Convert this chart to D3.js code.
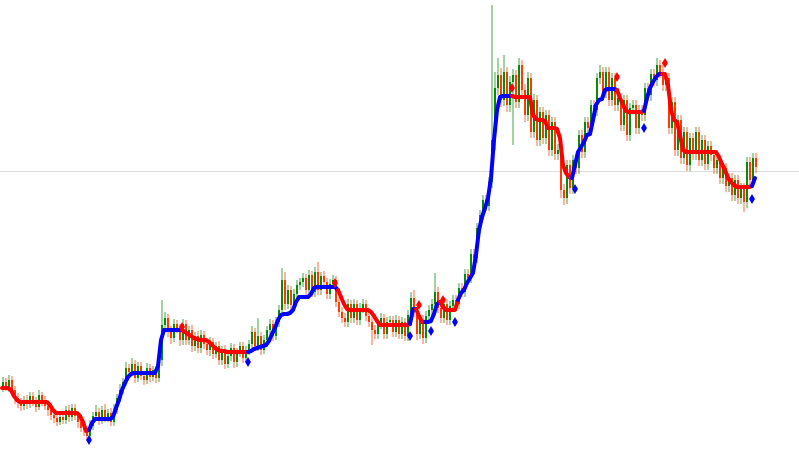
<!DOCTYPE html>
<html>
<head>
<meta charset="utf-8">
<script src="https://cdn.jsdelivr.net/npm/d3@7"></script>
<style>
html,body{margin:0;padding:0;background:#fff;overflow:hidden;}
svg{display:block;}
</style>
</head>
<body>
<svg id="chart" width="799" height="450"></svg>
<script>
// ---- data (price units) ----
const open = [
 62,68,63,70,60,52,47,44,50,46, 54,48,43,55,49,44,40,35,32,28,
 33,30,40,33,42,34,28,22,20,14, 24,34,38,30,40,32,37,28,40,52,
 60,68,82,78,86,72,84,74,70,82, 73,80,72,90,125,132,118,112,126,122,
 110,126,110,120,104,114,102,115,106,100, 108,96,104,90,100,86,94,102,88,98,
 104,92,100,106,118,104,114,100,110,120, 126,114,128,140,170,146,160,145,156,165,
 168,172,160,175,158,178,160,174,168,156, 166,170,148,138,132,128,146,132,146,130,
 142,146,134,128,120,116,126,132,116,128, 130,118,130,116,128,114,135,152,138,116,
 130,112,134,140,146,158,142,132,146,130, 144,150,146,162,158,176,172,196,192,222,
 235,250,244,268,310,362,375,350,378,345, 368,375,348,385,360,335,372,318,350,310,
 338,312,335,300,328,296,300,260,252,285, 262,290,282,315,298,328,322,345,340,372,
 378,358,378,350,372,345,352,325,350,315, 342,345,322,340,335,362,355,376,370,385,
 378,365,372,322,348,300,330,292,318,285, 312,296,318,290,310,286,304,295,282,290,
 272,282,264,272,255,270,252,262,248,288, 270,292
];
const close = [
 68,63,70,60,52,47,44,50,46,54, 48,43,55,49,44,40,35,32,28,33,
 30,40,33,42,34,28,22,20,14,24, 34,38,30,40,32,37,28,40,52,60,
 68,82,78,86,72,84,74,70,82,73, 80,72,90,125,132,118,112,126,122,110,
 126,110,120,104,114,102,115,106,100,108, 96,104,90,100,86,94,102,88,98,104,
 92,100,106,118,104,114,100,110,120,126, 114,128,140,170,146,160,145,156,165,168,
 172,160,175,158,178,160,174,168,156,166, 170,148,138,132,128,146,132,146,130,142,
 146,134,128,120,116,126,132,116,128,130, 118,130,116,128,114,135,152,138,116,130,
 112,134,140,146,158,142,132,146,130,144, 150,146,162,158,176,172,196,192,222,235,
 250,244,268,310,362,375,350,378,345,368, 375,348,385,360,335,372,318,350,310,338,
 312,335,300,328,296,300,260,252,285,262, 290,282,315,298,328,322,345,340,372,378,
 358,378,350,372,345,352,325,350,315,342, 345,322,340,335,362,355,376,370,385,378,
 365,372,322,348,300,330,292,318,285,312, 296,318,290,310,286,304,295,282,290,272,
 282,264,272,255,270,252,262,248,288,270, 292,283
];
const high = [
 73,72,75,74,64,57,52,54,55,58, 58,53,60,58,54,48,44,40,36,38,
 37,44,45,46,46,38,33,27,24,30, 38,45,42,44,46,41,42,46,56,66,
 72,88,86,92,90,88,88,79,87,86, 84,84,96,150,138,136,124,131,130,126,
 131,130,124,125,118,119,120,119,110,113, 112,108,109,104,105,98,107,106,102,108,
 108,104,110,124,122,132,118,115,124,131, 130,133,145,182,178,165,164,161,170,172,
 177,176,180,179,183,188,178,179,172,171, 175,174,153,143,137,151,150,151,150,147,
 151,150,139,133,125,131,137,136,133,134, 134,135,134,133,132,140,158,160,143,135,
 135,139,145,151,177,163,147,151,151,149, 155,155,167,167,181,181,201,201,227,240,
 255,255,273,445,378,392,382,395,383,374, 381,380,392,390,366,378,377,356,355,343,
 343,340,340,333,333,306,305,266,290,290, 295,295,320,320,333,333,350,350,377,385,
 383,383,383,377,377,357,357,355,355,347, 350,350,345,345,367,367,381,381,392,390,
 388,377,377,353,353,335,335,323,323,317, 317,323,323,315,315,309,309,300,295,295,
 287,287,277,277,275,275,267,267,293,293, 297,297
];
const low = [
 58,59,58,55,46,42,39,40,41,42, 44,38,40,44,40,34,30,27,24,25,
 26,26,28,29,30,22,18,14,10,9, 20,30,25,26,28,28,24,24,36,48,
 56,64,73,74,67,68,70,65,66,68, 69,67,68,84,120,113,106,108,117,104,
 105,105,105,98,99,97,97,101,95,94, 91,92,85,85,81,82,89,82,83,93,
 87,88,95,101,99,99,95,96,105,115, 109,110,123,135,140,141,140,140,151,160,
 163,155,155,153,153,155,155,163,151,151, 161,143,133,127,123,123,127,127,125,125,
 137,129,123,105,111,111,121,111,111,123, 113,113,111,111,109,109,130,133,110,111,
 106,107,129,135,141,137,127,127,125,125, 139,141,141,153,153,167,167,187,187,217,
 230,239,239,262,300,355,343,344,338,338, 305,342,342,354,328,329,312,312,304,304,
 306,306,294,294,290,290,252,245,246,256, 256,276,276,292,292,316,316,334,334,366,
 352,352,344,344,339,339,319,319,309,309, 336,316,316,329,329,349,349,364,364,372,
 359,359,316,316,294,294,286,286,279,279, 290,290,284,284,280,280,289,276,276,266,
 266,258,258,249,249,246,246,238,242,264, 264,277
];
// trend-following indicator value per bar
const trend = [
 62,62,62,60,54,50,48,48,48,48, 48,48,48,48,48,48,45,40,37,37,
 37,37,37,37,37,37,34,28,19,20, 27,31,31,31,31,31,31,33,42,50,
 60,67,73,76,77,77,77,77,77,77, 77,77,84,110,120,120,120,120,120,120,
 120,118,116,114,112,111,110,110,110,108, 105,102,100,99,99,98,98,98,98,98,
 98,98,98,99,101,102,103,104,105,109, 116,122,130,135,136,136,137,140,148,153,
 153,153,153,156,162,163,163,163,163,163, 163,163,160,153,146,141,140,140,140,140,
 140,140,140,138,134,129,125,125,125,125, 125,125,125,125,125,125,126,141,141,134,
 128,128,128,129,136,146,148,143,140,140, 140,140,150,157,160,167,172,177,195,220,
 233,242,252,272,310,340,353,354,354,354, 354,353,353,353,353,353,353,335,331,330,
 330,329,322,322,322,321,312,285,277,273, 272,285,298,303,308,315,316,330,345,350,
 351,360,361,361,361,360,352,345,339,338, 338,338,338,338,339,352,362,368,373,376,
 376,376,365,340,330,328,315,300,298,298, 298,298,298,298,298,298,298,298,298,293,
 286,280,272,268,265,263,263,263,263,263, 264,272
];
// trend direction changes (bar index where each regime starts)
const regimeStart = [0,29,60,82,112,136,138,141,146,152,170,190,205,214,220,250];
const regimeDir   = ["down","up","down","up","down","up","down","up","down","up","down","up","down","up","down","up"];
// signal markers
const buyIdx  = [29,82,136,143,151,191,214,250];
const buyVal  = [10,88,114,119,128,261,322,251];
const sellIdx = [60,111,139,147,170,205,221];
const sellVal = [123,167,145,150,362,373,387];
const refLevel = 279;

// ---- chart ----
const W = 799, H = 450;
const svg = d3.select("#chart");
svg.append("rect").attr("width", W).attr("height", H).attr("fill", "#ffffff");

const x = d3.scaleLinear().domain([0, close.length - 1]).range([2, 755]);
const y = d3.scaleLinear().domain([0, 450]).range([H, 0]);

const upCol = "#0a8a0a", dnCol = "#ff3a00";

// reference level line
svg.append("line")
  .attr("x1", 0).attr("x2", W)
  .attr("y1", Math.round(y(refLevel)) + 0.5).attr("y2", Math.round(y(refLevel)) + 0.5)
  .attr("stroke", "#dcdcdc").attr("stroke-width", 1);

const bars = d3.range(close.length).map(i => ({i, o: open[i], h: high[i], l: low[i], c: close[i]}));

const g = svg.append("g");
// wicks
g.selectAll("line.wick").data(bars).join("line")
  .attr("class", "wick")
  .attr("x1", d => Math.round(x(d.i)) + 1).attr("x2", d => Math.round(x(d.i)) + 1)
  .attr("y1", d => y(d.h)).attr("y2", d => y(d.l))
  .attr("stroke", d => d.c >= d.o ? upCol : dnCol)
  .attr("stroke-opacity", 0.5)
  .attr("stroke-width", 1.5);
// bodies
g.selectAll("rect.body").data(bars).join("rect")
  .attr("class", "body")
  .attr("x", d => Math.round(x(d.i)))
  .attr("width", 2)
  .attr("y", d => y(Math.max(d.o, d.c)))
  .attr("height", d => Math.max(1, Math.abs(y(d.o) - y(d.c))))
  .attr("fill", d => d.c >= d.o ? upCol : dnCol);

// trend line segments
const line = d3.line().x(d => x(d.i)).y(d => y(d.v)).curve(d3.curveLinear);
regimeStart.forEach((s, k) => {
  const e = k + 1 < regimeStart.length ? regimeStart[k + 1] : trend.length - 1;
  const pts = d3.range(s, e + 1).map(i => ({i, v: trend[i]}));
  svg.append("path")
    .attr("d", line(pts))
    .attr("fill", "none")
    .attr("stroke", regimeDir[k] === "up" ? "#0000ff" : "#ff0000")
    .attr("stroke-width", 4)
    .attr("stroke-linejoin", "round")
    .attr("stroke-linecap", "round");
});

// markers
const diamond = d3.symbol().type(d3.symbolDiamond).size(30);
svg.selectAll("path.buy").data(buyIdx.map((b, k) => ({i: b, v: buyVal[k]}))).join("path")
  .attr("class", "buy")
  .attr("d", diamond)
  .attr("transform", d => `translate(${x(d.i)},${y(d.v)})`)
  .attr("fill", "#0000ff");
svg.selectAll("path.sell").data(sellIdx.map((b, k) => ({i: b, v: sellVal[k]}))).join("path")
  .attr("class", "sell")
  .attr("d", diamond)
  .attr("transform", d => `translate(${x(d.i)},${y(d.v)})`)
  .attr("fill", "#ff0000");
</script>
</body>
</html>
